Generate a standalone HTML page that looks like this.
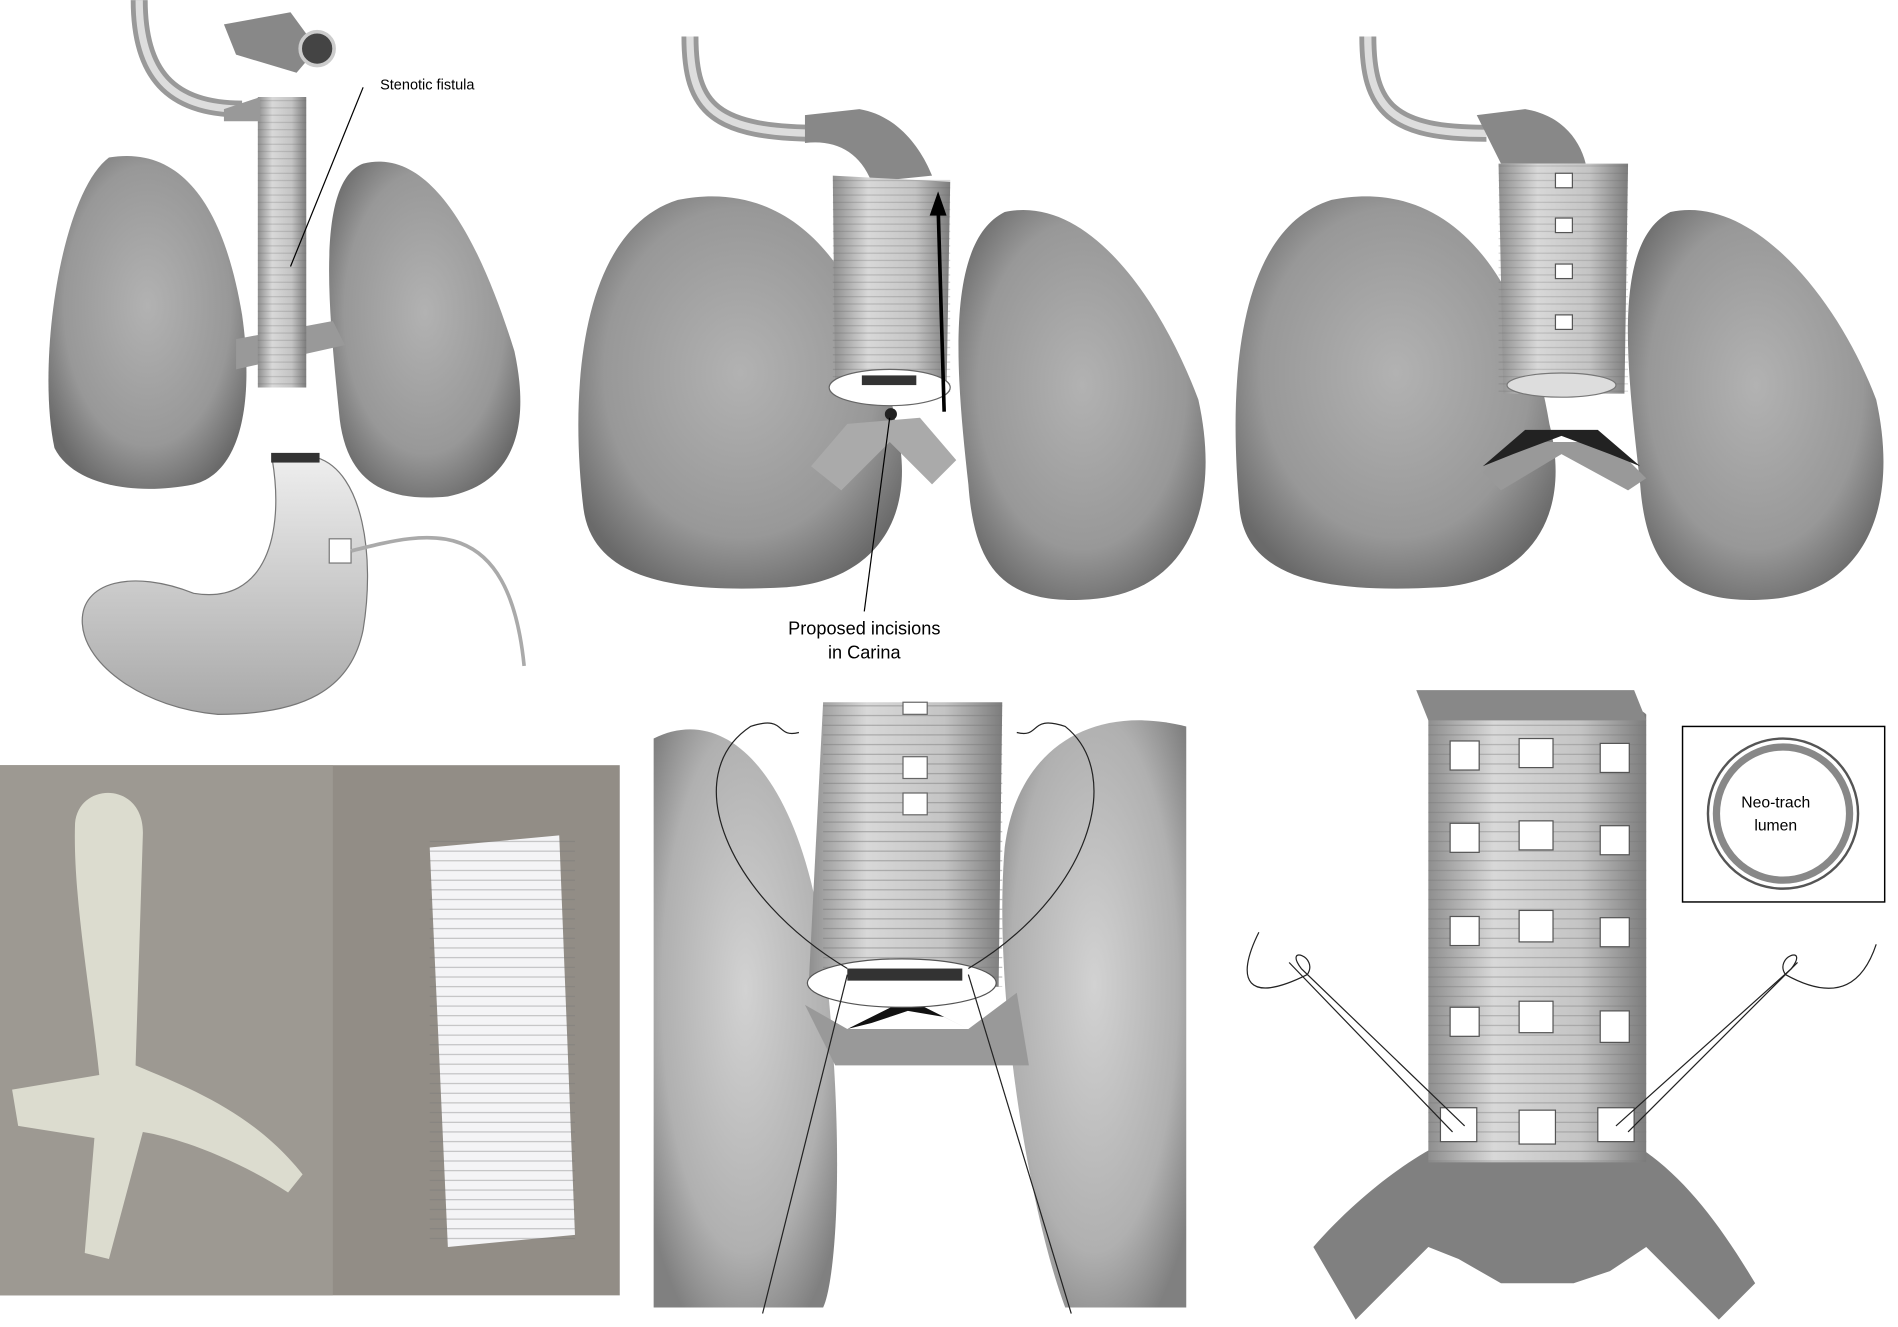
<!DOCTYPE html>
<html><head><meta charset="utf-8"><style>
html,body{margin:0;padding:0;background:#fff;}
svg{display:block;}
text{font-family:"Liberation Sans",Arial,sans-serif;}
</style></head><body>
<svg width="1898" height="1327" viewBox="0 0 1568 1096" xmlns="http://www.w3.org/2000/svg">
<defs>
<radialGradient id="lg" cx="50%" cy="45%" r="60%">
<stop offset="0" stop-color="#b2b2b2"/><stop offset="0.7" stop-color="#989898"/><stop offset="1" stop-color="#6a6a6a"/></radialGradient>
<radialGradient id="lg2" cx="50%" cy="45%" r="65%">
<stop offset="0" stop-color="#d2d2d2"/><stop offset="0.7" stop-color="#b0b0b0"/><stop offset="1" stop-color="#808080"/></radialGradient>
<linearGradient id="cyl" x1="0" x2="1">
<stop offset="0" stop-color="#8e8e8e"/><stop offset="0.3" stop-color="#d8d8d8"/><stop offset="0.7" stop-color="#c4c4c4"/><stop offset="1" stop-color="#7c7c7c"/></linearGradient>
<linearGradient id="st" x1="0" y1="0" x2="0" y2="1">
<stop offset="0" stop-color="#eee"/><stop offset="1" stop-color="#a8a8a8"/></linearGradient>
<pattern id="rings" width="6" height="6" patternUnits="userSpaceOnUse"><line x1="0" y1="5" x2="6" y2="5" stroke="#666" stroke-width="0.8"/></pattern>
<pattern id="rings2" width="8" height="8" patternUnits="userSpaceOnUse"><line x1="0" y1="7" x2="8" y2="7" stroke="#777" stroke-width="0.8"/></pattern>
</defs>

<!-- Panel 1 -->
<path d="M115,0 C115,60 140,90 200,90" fill="none" stroke="#999" stroke-width="14"/>
<path d="M115,0 C115,60 140,90 200,90" fill="none" stroke="#ddd" stroke-width="6"/>
<path d="M185,20 L240,10 L262,40 L245,60 L195,45 Z" fill="#888"/>
<circle cx="262" cy="40" r="14" fill="#444" stroke="#ccc" stroke-width="3"/>
<path d="M90,130 C150,120 185,170 200,260 C210,330 200,390 160,400 C110,410 60,400 45,370 C30,300 50,160 90,130Z" fill="url(#lg)"/>
<path d="M300,135 C360,120 400,210 425,290 C440,360 420,400 370,410 C320,415 285,400 280,340 C272,260 260,150 300,135Z" fill="url(#lg)"/>
<path d="M195,280 L275,265 L285,285 L195,305Z" fill="#999"/>
<rect x="213" y="80" width="40" height="240" fill="url(#cyl)"/>
<rect x="213" y="80" width="40" height="240" fill="url(#rings)" opacity="0.3"/>
<path d="M185,90 L215,80 L215,100 L185,100Z" fill="#999"/>
<line x1="300" y1="72" x2="240" y2="220" stroke="#000" stroke-width="1"/>
<text x="314" y="74" font-size="12" fill="#000">Stenotic fistula</text>
<path d="M225,380 L262,378 C300,390 310,460 300,520 C290,570 250,590 180,590 C120,585 70,550 68,515 C66,480 110,470 160,490 C220,500 235,440 225,380Z" fill="url(#st)" stroke="#777"/>
<rect x="224" y="374" width="40" height="8" fill="#333"/>
<rect x="272" y="445" width="18" height="20" fill="#fff" stroke="#777"/>
<path d="M290,455 C350,440 420,420 433,550" fill="none" stroke="#aaa" stroke-width="3"/>

<!-- Photo -->
<rect x="0" y="632" width="512" height="438" fill="#928d86"/>
<rect x="0" y="632" width="275" height="438" fill="#9d9992"/>
<path d="M62,680 C65,645 120,645 118,690 L112,880 C160,900 210,920 250,970 L238,985 C200,960 150,940 118,935 L90,1040 L70,1035 L78,940 L15,930 L10,900 L82,888 C75,820 60,740 62,680Z" fill="#dcdccf"/>
<path d="M355,700 L462,690 L475,1020 L370,1030Z" fill="#f4f4f6"/>
<rect x="355" y="690" width="120" height="340" fill="url(#rings2)" opacity="0.5"/>

<!-- Panel 2 -->
<path d="M570,30 C570,90 590,110 680,110" fill="none" stroke="#999" stroke-width="14"/>
<path d="M570,30 C570,90 590,110 680,110" fill="none" stroke="#ddd" stroke-width="6"/>
<path d="M665,95 L710,90 C740,95 760,120 770,145 L720,150 C710,125 690,115 665,118Z" fill="#888"/>
<path d="M560,165 C660,145 720,230 740,350 C760,430 720,480 650,485 C560,490 490,480 482,420 C470,320 480,190 560,165Z" fill="url(#lg)"/>
<path d="M830,175 C900,160 960,250 990,330 C1010,420 980,490 900,495 C830,500 805,470 800,400 C790,310 780,200 830,175Z" fill="url(#lg)"/>
<path d="M670,385 L700,350 L760,345 L790,380 L770,400 L735,365 L695,405Z" fill="#aaa"/>
<path d="M688,145 L785,150 L782,320 L690,325Z" fill="url(#cyl)"/>
<rect x="688" y="145" width="97" height="180" fill="url(#rings)" opacity="0.35"/>
<ellipse cx="735" cy="320" rx="50" ry="15" fill="#fff" stroke="#666"/>
<rect x="712" y="310" width="45" height="8" fill="#333"/>
<path d="M780,340 L775,170" stroke="#000" stroke-width="3"/>
<path d="M768,178 L775,158 L782,178Z" fill="#000"/>
<circle cx="736" cy="342" r="5" fill="#222"/>
<line x1="735" y1="345" x2="714" y2="505" stroke="#000"/>
<text x="714" y="524" font-size="15" text-anchor="middle" fill="#000">Proposed incisions</text>
<text x="714" y="544" font-size="15" text-anchor="middle" fill="#000">in Carina</text>

<!-- Panel 3 -->
<path d="M1130,30 C1130,90 1150,110 1228,110" fill="none" stroke="#999" stroke-width="14"/>
<path d="M1130,30 C1130,90 1150,110 1228,110" fill="none" stroke="#ddd" stroke-width="6"/>
<path d="M1220,95 L1260,90 C1290,95 1305,115 1310,135 L1240,135Z" fill="#888"/>
<path d="M1100,165 C1200,145 1260,230 1280,350 C1300,430 1260,480 1190,485 C1100,490 1030,480 1024,420 C1015,320 1020,190 1100,165Z" fill="url(#lg)"/>
<path d="M1380,175 C1450,160 1520,250 1550,330 C1570,420 1540,490 1460,495 C1390,500 1360,470 1355,400 C1345,310 1330,200 1380,175Z" fill="url(#lg)"/>
<path d="M1225,390 L1250,365 L1330,365 L1360,395 L1345,405 L1290,375 L1240,405Z" fill="#999"/>
<path d="M1225,385 L1260,355 L1320,355 L1355,385 L1330,375 L1290,360 L1250,375Z" fill="#222"/>
<path d="M1238,135 L1345,135 L1342,325 L1242,325Z" fill="url(#cyl)"/>
<rect x="1238" y="135" width="107" height="190" fill="url(#rings)" opacity="0.3"/>
<g fill="#fff" stroke="#555"><rect x="1285" y="143" width="14" height="12"/><rect x="1285" y="180" width="14" height="12"/><rect x="1285" y="218" width="14" height="12"/><rect x="1285" y="260" width="14" height="12"/></g>
<ellipse cx="1290" cy="318" rx="45" ry="10" fill="#ddd" stroke="#777"/>

<!-- Panel 4 -->
<path d="M540,610 C600,580 660,640 680,780 C700,950 690,1060 680,1080 L540,1080Z" fill="url(#lg2)"/>
<path d="M980,600 C900,580 840,620 830,700 C820,820 850,1000 880,1080 L980,1080Z" fill="url(#lg2)"/>
<path d="M665,830 L700,850 L800,850 L840,820 L850,880 L690,880Z" fill="#999"/>
<path d="M700,850 L750,825 L800,850 L780,840 L750,835 L720,845Z" fill="#111"/>
<path d="M680,580 L828,580 L825,815 L668,815Z" fill="url(#cyl)"/>
<rect x="680" y="580" width="148" height="235" fill="url(#rings2)" opacity="0.6"/>
<ellipse cx="745" cy="812" rx="78" ry="20" fill="#fff" stroke="#555"/>
<rect x="700" y="800" width="95" height="10" fill="#333"/>
<g fill="#fff" stroke="#666"><rect x="746" y="625" width="20" height="18"/><rect x="746" y="655" width="20" height="18"/><rect x="746" y="580" width="20" height="10"/></g>
<g fill="none" stroke="#222" stroke-width="1"><path d="M700,800 C600,740 560,640 620,600 C650,590 640,610 660,605"/><path d="M800,800 C900,740 930,640 880,600 C850,590 860,610 840,605"/><path d="M700,805 L630,1085"/><path d="M800,805 L885,1085"/></g>

<!-- Panel 5 -->
<path d="M1085,1030 C1120,990 1160,960 1190,945 L1350,945 C1390,970 1420,1010 1450,1060 L1420,1090 L1360,1030 L1330,1050 L1300,1060 L1240,1060 L1205,1040 L1180,1030 L1120,1090Z" fill="#808080"/>
<path d="M1180,585 C1210,570 1340,570 1360,590 L1360,960 L1180,960Z" fill="url(#cyl)"/>
<rect x="1180" y="590" width="180" height="370" fill="url(#rings2)" opacity="0.5"/>
<path d="M1170,570 L1350,570 L1360,595 L1180,595Z" fill="#888"/>
<g fill="#fff" stroke="#555">
<rect x="1198" y="612" width="24" height="24"/><rect x="1255" y="610" width="28" height="24"/><rect x="1322" y="614" width="24" height="24"/>
<rect x="1198" y="680" width="24" height="24"/><rect x="1255" y="678" width="28" height="24"/><rect x="1322" y="682" width="24" height="24"/>
<rect x="1198" y="757" width="24" height="24"/><rect x="1255" y="752" width="28" height="26"/><rect x="1322" y="758" width="24" height="24"/>
<rect x="1198" y="832" width="24" height="24"/><rect x="1255" y="827" width="28" height="26"/><rect x="1322" y="835" width="24" height="26"/>
<rect x="1190" y="915" width="30" height="28"/><rect x="1255" y="917" width="30" height="28"/><rect x="1320" y="915" width="30" height="28"/>
</g>
<g fill="none" stroke="#222"><path d="M1210,930 L1075,800 C1060,780 1090,790 1080,805 C1030,830 1020,810 1040,770"/><path d="M1335,930 L1480,800 C1495,780 1465,790 1475,805 C1520,830 1540,810 1550,780"/><path d="M1200,935 L1065,795"/><path d="M1345,935 L1485,795"/></g>
<rect x="1390" y="600" width="167" height="145" fill="#fff" stroke="#000" stroke-width="1.2"/>
<circle cx="1473" cy="672" r="62" fill="none" stroke="#555" stroke-width="2"/>
<circle cx="1473" cy="672" r="55" fill="none" stroke="#888" stroke-width="6"/>
<text x="1467" y="667" font-size="13" text-anchor="middle" fill="#000">Neo-trach</text>
<text x="1467" y="686" font-size="13" text-anchor="middle" fill="#000">lumen</text>
</svg>
</body></html>
